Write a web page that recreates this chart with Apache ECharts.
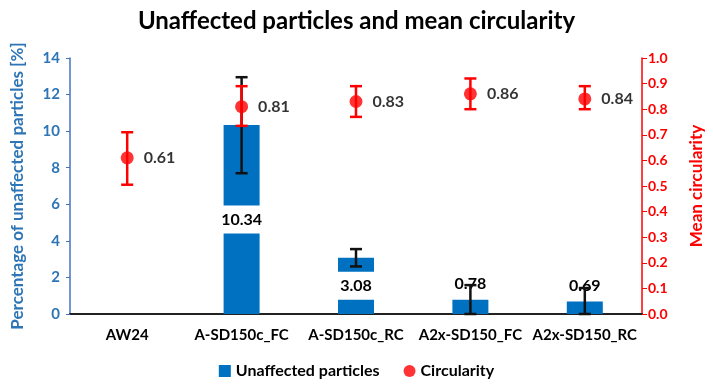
<!DOCTYPE html>
<html><head><meta charset="utf-8">
<script src="https://cdn.jsdelivr.net/npm/echarts@6/dist/echarts.min.js"></script>
<style>html,body{margin:0;padding:0;background:#fff}#c{width:713px;height:387px}</style>
</head><body><div id="c"></div>
<script>
const categories = ['AW24', 'A-SD150c_FC', 'A-SD150c_RC', 'A2x-SD150_FC', 'A2x-SD150_RC'];
const unaffected = [null, 10.34, 3.08, 0.78, 0.69];
const unaffectedLow = [null, 7.70, 2.60, 0.0, 0.0];
const unaffectedHigh = [null, 12.95, 3.55, 1.58, 1.42];
const circularity = [0.61, 0.81, 0.83, 0.86, 0.84];
const circLow = [0.505, 0.735, 0.77, 0.80, 0.80];
const circHigh = [0.71, 0.89, 0.89, 0.92, 0.89];
const leftTicks = [0, 2, 4, 6, 8, 10, 12, 14];
const rightTicks = [0, 0.1, 0.2, 0.3, 0.4, 0.5, 0.6, 0.7, 0.8, 0.9, 1.0];

const FONT = 'Lato';
const BLUE = '#0070C0';
const AXBLUE = '#2E75B6';
const RED = '#FF0000';
const TXT = '#000';

function errRender(color, cap, lw) {
  return function (params, api) {
    const i = api.value(0);
    const top = api.coord([i, api.value(2)]);
    const bot = api.coord([i, api.value(1)]);
    const st = { stroke: color, lineWidth: lw };
    return {
      type: 'group',
      children: [
        { type: 'line', shape: { x1: top[0], y1: top[1], x2: bot[0], y2: bot[1] }, style: st },
        { type: 'line', shape: { x1: top[0] - cap, y1: top[1], x2: top[0] + cap, y2: top[1] }, style: st },
        { type: 'line', shape: { x1: bot[0] - cap, y1: bot[1], x2: bot[0] + cap, y2: bot[1] }, style: st }
      ]
    };
  };
}

const barData = unaffected.map((v, i) => {
  if (v == null) return '-';
  const inside = v > 2;
  return {
    value: v,
    label: inside ? {
      show: true, position: 'inside', backgroundColor: '#fff', padding: [6, 6],
      color: TXT, fontWeight: 'bold', fontSize: 16, fontFamily: FONT
    } : {
      show: true, position: 'top', distance: 8,
      color: TXT, fontWeight: 'bold', fontSize: 16, fontFamily: FONT
    }
  };
});

const barErr = [];
unaffected.forEach((v, i) => { if (v != null) barErr.push([i, unaffectedLow[i], unaffectedHigh[i]]); });
const circErr = circularity.map((v, i) => [i, circLow[i], circHigh[i]]);

const chart = echarts.init(document.getElementById('c'));
chart.setOption({
  animation: false,
  backgroundColor: '#fff',
  title: {
    text: 'Unaffected particles and mean circularity', left: 'center', top: 4,
    textStyle: { fontFamily: FONT, fontWeight: 'bold', fontSize: 24, color: TXT }
  },
  legend: {
    bottom: 3, left: 'center', itemGap: 24, itemWidth: 12, itemHeight: 12,
    textStyle: { fontFamily: FONT, fontWeight: 'bold', fontSize: 16, color: TXT },
    data: [
      { name: 'Unaffected particles', icon: 'rect' },
      { name: 'Circularity', icon: 'circle' }
    ]
  },
  grid: { left: 70, right: 63, top: 58, bottom: 73 },
  xAxis: {
    type: 'category', data: categories,
    axisLine: { lineStyle: { color: '#222', width: 2 } },
    axisTick: { show: false },
    axisLabel: { interval: 0, margin: 14, fontFamily: FONT, fontWeight: 'bold', fontSize: 15, color: TXT }
  },
  yAxis: [
    {
      type: 'value', min: 0, max: 14, interval: 2,
      name: 'Percentage of unaffected particles [%]', nameLocation: 'middle', nameGap: 44,
      nameTextStyle: { fontFamily: FONT, fontWeight: 'bold', fontSize: 17, color: AXBLUE },
      axisLine: { show: true, lineStyle: { color: '#4472C4', width: 1.5 } },
      axisTick: { show: true, length: 4, lineStyle: { color: '#4472C4' } },
      splitLine: { show: false },
      axisLabel: { margin: 10, fontFamily: FONT, fontWeight: 'bold', fontSize: 15, color: AXBLUE,
        formatter: v => leftTicks.includes(v) ? String(v) : '' }
    },
    {
      type: 'value', min: 0, max: 1, interval: 0.1, position: 'right',
      name: 'Mean circularity', nameLocation: 'middle', nameGap: 46, nameRotate: 90,
      nameTextStyle: { fontFamily: FONT, fontWeight: 'bold', fontSize: 17, color: RED },
      axisLine: { show: true, lineStyle: { color: RED, width: 1.5 } },
      axisTick: { show: true, length: 5, lineStyle: { color: RED } },
      splitLine: { show: false },
      axisLabel: { margin: 6, fontFamily: FONT, fontWeight: 'bold', fontSize: 14, color: RED,
        formatter: v => rightTicks.some(t => Math.abs(t - v) < 1e-6) ? v.toFixed(1) : '' }
    }
  ],
  series: [
    {
      name: 'Unaffected particles', type: 'bar', yAxisIndex: 0, barWidth: 36,
      itemStyle: { color: BLUE }, data: barData, z: 2
    },
    {
      name: 'barErr', type: 'custom', yAxisIndex: 0, renderItem: errRender('#111', 6, 2.5),
      data: barErr, z: 3, silent: true
    },
    {
      name: 'circErr', type: 'custom', yAxisIndex: 1, renderItem: errRender(RED, 6, 2.5),
      data: circErr, z: 4, silent: true
    },
    {
      name: 'Circularity', type: 'scatter', yAxisIndex: 1, symbol: 'circle', symbolSize: 13,
      itemStyle: { color: RED }, z: 5,
      label: { show: true, position: 'right', distance: 10, formatter: p => p.value.toFixed(2),
        fontFamily: FONT, fontWeight: 'bold', fontSize: 16, color: TXT },
      data: circularity
    }
  ]
});
</script></body></html>
